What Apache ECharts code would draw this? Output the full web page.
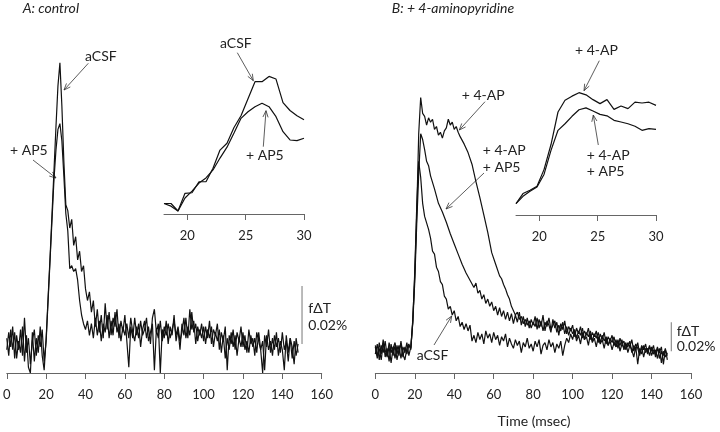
<!DOCTYPE html>
<html><head><meta charset="utf-8">
<script src="https://cdn.jsdelivr.net/npm/echarts@6/dist/echarts.min.js"></script>
<style>html,body{margin:0;padding:0;background:#fff}#c{width:720px;height:432px}</style>
</head><body><div id="c"></div>
<script>
// sample times (ms), 1 ms sampling of the traces
const timeMs = Array.from({length: 149}, (_, i) => i);
// Values in units of 0.001 % fΔT (scale bar = 20 units = 0.02 %)
const ctrlACSF = [2,-4,5,-2,4,-5,1,-3,6,-6,3,-8,-10,4,-6,2,-3,6,-4,-9,
 2,16,30,45,60,75,89,97,82,63,48,46,40,43,34,37,29,32,25,27,19,15,18,11,15,
 6,12,4,10,2,14,5,11,3,9,6,12,2,8,4,10,
 1,-8,6,2,9,3,7,-1,5,8,2,6,0,9,12,4,7,-10,5,2,8,0,6,3,10,1,5,-2,7,3,9,2,12,5,8,0,6,3,7,1,
 6,2,8,0,5,3,7,-2,4,1,6,-9,3,0,5,-2,4,1,6,-1,3,-3,5,0,2,-4,4,1,-2,-10,3,-1,5,-3,2,-2,4,-4,1,-2,-9,3,-3,2,-5,1,-4,0];
const ctrlAP5 = [-2,4,-1,6,-5,3,-2,5,-4,9,-3,2,-7,1,5,-4,3,-1,5,-6,
 1,15,29,43,57,67,74,76,70,58,45,39,26,27,25,26,22,15,10,7,5,8,3,7,2,
 9,3,8,1,7,4,10,2,8,3,11,4,7,1,6,3,
 7,2,9,4,1,6,2,8,3,5,9,1,4,7,-9,5,2,8,1,6,3,7,2,5,8,3,6,1,4,9,2,6,3,11,4,7,1,5,2,6,
 0,5,2,6,-1,4,1,5,-3,3,-5,2,-2,4,-1,3,-4,2,-1,4,-2,1,-3,3,-1,2,-3,4,-2,1,-9,3,-2,1,-4,3,-1,2,-3,4,-2,1,-6,2,-1,-7,2,-3];
const apACSF = [3,-5,6,-2,8,-4,2,-7,5,-3,4,-6,1,5,-4,3,-2,4,2,
 20,55,100,131,
 120,102,93,92,84,78,69,67,58,55,48,46,38,36,29,31,25,28,21,24,17,20,15,19,14,18,
 7,11,6,13,8,12,5,14,9,12,6,13,8,11,4,10,7,12,3,9,5,2,8,4,7,-1,6,3,9,2,5,0,7,3,8,-2,4,6,1,8,3,6,-1,5,2,7,-3,4,9,6,12,8,
 14,7,11,5,13,8,10,4,12,6,9,3,10,5,8,2,9,4,7,1,6,3,8,0,5,2,6,-1,4,1,-4,3,-9,2,-2,4,-1,2,-3,3,-2,1,-5,2,-8,0,-4,-1];
const ap4APAP5 = [-2,5,-6,4,-1,7,-3,3,-8,2,6,-2,4,-5,3,-1,6,-3,3,
 20,48,88,122,150,146,
 139,131,128,121,120,112,111,102,103,96,95,89,88,81,80,74,73,67,68,60,61,54,55,49,50,44,47,40,42,36,
 39,33,36,31,34,28,31,25,30,24,28,22,27,21,26,19,25,20,27,18,24,17,23,16,22,18,
 24,15,22,17,25,14,21,18,13,22,16,20,11,19,15,21,12,17,14,18,10,16,12,17,9,14,11,16,8,13,
 10,14,6,12,8,13,5,10,7,11,4,8,2,9,5,7,1,6,3,8,0,5,2,-3,4,1,5,-2,3,0,4,-4,2,-1,3,-9,1,-3];
const ap4AP = [4,-3,2,-6,5,1,-4,6,-1,3,-5,4,-3,7,-2,-6,2,5,1,
 22,52,95,150,175,164,162,156,161,158,160,153,155,149,151,147,152,154,160,156,158,153,155,151,148,
 149,143,144,137,138,129,130,117,118,106,107,94,95,82,83,68,69,60,61,52,50,46,43,39,36,31,30,25,27,22,24,19,22,18,21,16,20,
 17,23,16,21,14,20,17,23,15,18,21,13,18,14,20,12,17,11,16,12,15,9,14,11,16,8,13,10,14,7,
 12,9,13,6,11,7,10,4,9,6,10,3,7,4,8,1,5,3,7,-1,4,1,6,-2,3,-4,2,0,4,-3,1,-2,3,-5,0,-3,2,-6];
// inset traces (expanded time base)
const insetT = [18,18.6,19.2,19.8,20.4,21,21.6,22.2,22.8,23.4,24,24.6,25.2,25.8,26.4,27,27.6,28.2,28.8,29.4,30];
const insetCtrlACSF = [0,0,-5.7,7.8,8.2,16.6,16.6,26.9,40.8,46,58,67,80,93,93,97,95,77,71,67,64];
const insetCtrlAP5 = [0,-2,-5.7,4.2,9.5,15.6,19.5,25.6,34.7,43,53.8,65,70,73.9,76.5,73.9,66.3,54.8,48.5,48,49.8];
const insetAP4AP = [0,15.8,21,27.3,53.6,93.2,144.5,163,169.5,175,171.6,164,157.7,164,148.7,154,149.8,160,158.7,160,155];
const insetAP4APAP5 = [0,11.5,19.4,26.2,46,84,115.6,126,137.7,148,151,146,140.8,138.5,131.4,128.7,126,122,115.6,118.3,117];
// scale bar: 0.02 % at t = 150 ms
const scaleBarT = [150,150];
const scaleBarV = [0,20];
const mainTicks = [0,160,20];
const insetTicks = [20,25,30];

const FONT = 'Lato';
const AX = '#666';
const TXT = '#222';
const pairs = (xs, ys) => ys.map((v, i) => [xs[i], v]);

function xMain(gi){
  return {gridIndex: gi, type: 'value', min: mainTicks[0], max: mainTicks[1], interval: mainTicks[2],
    axisLine: {show: true, onZero: false, lineStyle: {color: AX, width: 1}},
    axisTick: {show: true, length: 6, lineStyle: {color: AX, width: 1}},
    axisLabel: {margin: 15, fontFamily: FONT, fontSize: 13, color: TXT},
    splitLine: {show: false}};
}
function xInset(gi){
  return {gridIndex: gi, type: 'value', min: 18, max: 30,
    axisLine: {show: true, onZero: false, lineStyle: {color: AX, width: 1}},
    axisTick: {show: true, length: 6, customValues: insetTicks, lineStyle: {color: AX, width: 1}},
    axisLabel: {margin: 15, customValues: insetTicks, fontFamily: FONT, fontSize: 13, color: TXT},
    splitLine: {show: false}};
}
function yHidden(gi, min, max){
  return {gridIndex: gi, type: 'value', min: min, max: max, show: false, splitLine: {show: false}};
}
function trace(xi, data){
  return {type: 'line', xAxisIndex: xi, yAxisIndex: xi, data: data, showSymbol: false, symbol: 'none',
    lineStyle: {color: '#111', width: 1.2}, silent: true, animation: false};
}
function bar(xi){
  return {type: 'line', xAxisIndex: xi, yAxisIndex: xi, data: pairs(scaleBarT, scaleBarV), showSymbol: false, symbol: 'none',
    lineStyle: {color: '#777', width: 1}, silent: true, animation: false};
}
function arrow(x1, y1, x2, y2){
  const a = Math.atan2(y2 - y1, x2 - x1), L = 7, w = 0.38;
  const p1 = [x2 - L * Math.cos(a - w), y2 - L * Math.sin(a - w)];
  const p2 = [x2 - L * Math.cos(a + w), y2 - L * Math.sin(a + w)];
  return [
    {type: 'line', shape: {x1: x1, y1: y1, x2: x2, y2: y2}, style: {stroke: '#333', lineWidth: 0.8}, silent: true},
    {type: 'polyline', shape: {points: [p1, [x2, y2], p2]}, style: {stroke: '#333', lineWidth: 0.8, fill: null}, silent: true}
  ];
}
function label(text, x, y, opts){
  return {type: 'text', silent: true, style: Object.assign({text: text, x: x, y: y, fill: TXT,
    fontFamily: FONT, fontSize: 14, align: 'left', verticalAlign: 'middle'}, opts || {})};
}

const graphics = [].concat(
  label('A: control', 22.7, 8.3, {fontStyle: 'italic'}),
  label('B: + 4-aminopyridine', 391.7, 8.3, {fontStyle: 'italic'}),
  label('aCSF', 85, 56.7), arrow(88.3, 63.3, 64, 90),
  label('+ AP5', 10, 150.7), arrow(33, 160, 56, 178),
  label('aCSF', 220, 43.3), arrow(237.3, 52.7, 253.3, 80.7),
  label('+ AP5', 246, 155.7), arrow(263.3, 146.7, 266, 110.7),
  label('+ 4-AP', 461.7, 95), arrow(485, 101.7, 459.3, 130),
  label('+ 4-AP', 482.7, 150.7), label('+ AP5', 482.7, 167.3), arrow(484, 173, 446, 209),
  label('aCSF', 416.7, 355), arrow(434, 345, 451.7, 316),
  label('+ 4-AP', 575, 50.7), arrow(599.3, 60.7, 584, 90.7),
  label('+ 4-AP', 586.7, 155), label('+ AP5', 586.7, 171.7), arrow(598.3, 145, 593.3, 115),
  label('f\u0394T', 308.3, 308.3), label('0.02%', 308.3, 325),
  label('f\u0394T', 676.7, 331), label('0.02%', 676.7, 346.7),
  label('Time (msec)', 534, 421, {align: 'center'})
);

const chart = echarts.init(document.getElementById('c'), null, {renderer: 'canvas'});
chart.setOption({
  animation: false,
  backgroundColor: '#fff',
  grid: [
    {left: 6.5, top: 54, width: 315.2, height: 319},
    {left: 375.3, top: 61.25, width: 315.7, height: 311.75},
    {left: 164, top: 72.5, width: 140, height: 141.5},
    {left: 516, top: 89.5, width: 140, height: 125.5}
  ],
  xAxis: [xMain(0), xMain(1), xInset(2), xInset(3)],
  yAxis: [yHidden(0, -10, 100), yHidden(1, -15, 200), yHidden(2, -8, 100), yHidden(3, -18, 180)],
  series: [
    trace(0, pairs(timeMs, ctrlACSF)),
    trace(0, pairs(timeMs, ctrlAP5)),
    bar(0),
    trace(1, pairs(timeMs, apACSF)),
    trace(1, pairs(timeMs, ap4APAP5)),
    trace(1, pairs(timeMs, ap4AP)),
    bar(1),
    trace(2, pairs(insetT, insetCtrlACSF)),
    trace(2, pairs(insetT, insetCtrlAP5)),
    trace(3, pairs(insetT, insetAP4AP)),
    trace(3, pairs(insetT, insetAP4APAP5))
  ],
  graphic: graphics
});
</script></body></html>
